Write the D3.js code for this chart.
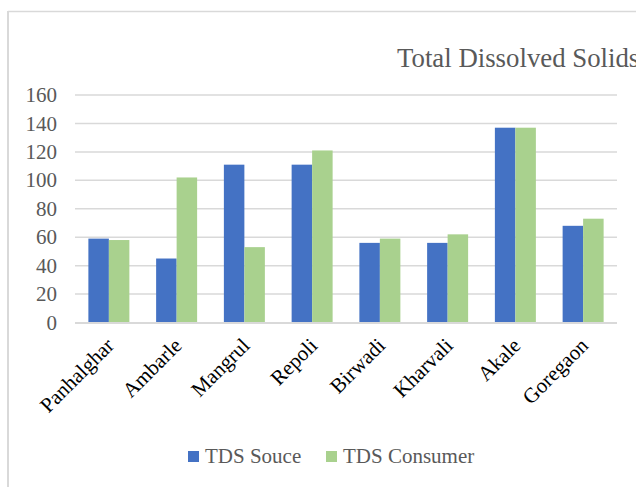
<!DOCTYPE html>
<html>
<head>
<meta charset="utf-8">
<script src="https://cdn.jsdelivr.net/npm/d3@7"></script>
<style>
  body { margin: 0; background: #fff; }
  svg { display: block; font-family: "Liberation Serif", "Times New Roman", serif; }
</style>
</head>
<body>
<script>
// chart data
var categories = ["Panhalghar", "Ambarle", "Mangrul", "Repoli", "Birwadi", "Kharvali", "Akale", "Goregaon"];
var seriesNames = ["TDS Souce", "TDS Consumer"];
var tdsSource = [59, 45, 111, 111, 56, 56, 137, 68];
var tdsConsumer = [58, 102, 53, 121, 59, 62, 137, 73];
var yTicks = [0, 20, 40, 60, 80, 100, 120, 140, 160];
var colors = ["#4472C4", "#A9D18E"];

var width = 636,
    height = 487;

var svg = d3.select("body")
    .append("svg")
    .attr("width", width)
    .attr("height", height);

// frame lines of the cropped chart box
svg.append("line")
    .attr("x1", 8).attr("x2", width)
    .attr("y1", 11.5).attr("y2", 11.5)
    .attr("stroke", "#d9d9d9").attr("stroke-width", 1.5);
svg.append("line")
    .attr("x1", 8).attr("x2", 8)
    .attr("y1", 11).attr("y2", height)
    .attr("stroke", "#d9d9d9").attr("stroke-width", 2);

// title (the chart box is cropped on the right)
svg.append("text")
    .attr("x", 397)
    .attr("y", 67)
    .attr("fill", "#595959")
    .style("font-size", "26.8px")
    .text("Total Dissolved Solids");

var plot = { left: 75, right: 617, top: 95, bottom: 322.5 };

var x = d3.scaleBand()
    .domain(categories)
    .range([plot.left, plot.right])
    .paddingInner(0.395)
    .paddingOuter(0.1975);

var xSub = d3.scaleBand()
    .domain(seriesNames)
    .range([0, x.bandwidth()]);

var y = d3.scaleLinear()
    .domain([0, 160])
    .range([plot.bottom, plot.top]);

// gridlines
svg.append("g")
    .selectAll("line")
    .data(yTicks.slice(1))
    .enter()
    .append("line")
    .attr("x1", plot.left)
    .attr("x2", plot.right)
    .attr("y1", function(d){ return y(d); })
    .attr("y2", function(d){ return y(d); })
    .attr("stroke", "#d9d9d9")
    .attr("stroke-width", 1.5);

// y tick labels
svg.append("g")
    .selectAll("text")
    .data(yTicks)
    .enter()
    .append("text")
    .attr("x", 57)
    .attr("y", function(d){ return y(d); })
    .attr("dy", "0.34em")
    .attr("text-anchor", "end")
    .attr("fill", "#595959")
    .style("font-size", "21px")
    .text(function(d){ return d; });

// bars
var rows = categories.map(function(c, i){
    return { cat: c, values: [tdsSource[i], tdsConsumer[i]] };
});

var groups = svg.selectAll(".grp")
    .data(rows)
    .enter()
    .append("g")
    .attr("class", "grp")
    .attr("transform", function(d){ return "translate(" + x(d.cat) + ",0)"; });

groups.selectAll("rect")
    .data(function(d){
        return d.values.map(function(v, j){ return { name: seriesNames[j], value: v, j: j }; });
    })
    .enter()
    .append("rect")
    .attr("x", function(d){ return xSub(d.name); })
    .attr("width", xSub.bandwidth())
    .attr("y", function(d){ return y(d.value); })
    .attr("height", function(d){ return y(0) - y(d.value); })
    .attr("fill", function(d){ return colors[d.j]; });

// baseline
svg.append("line")
    .attr("x1", plot.left)
    .attr("x2", plot.right)
    .attr("y1", y(0) + 0.5)
    .attr("y2", y(0) + 0.5)
    .attr("stroke", "#d9d9d9")
    .attr("stroke-width", 2);

// x labels rotated
svg.append("g")
    .selectAll("text")
    .data(categories)
    .enter()
    .append("text")
    .attr("transform", function(d){
        return "translate(" + (x(d) + x.bandwidth() / 2 - 4) + "," + (y(0) + 14) + ") rotate(-45)";
    })
    .attr("text-anchor", "end")
    .attr("dy", "0.7em")
    .attr("fill", "#000")
    .style("font-size", "21px")
    .text(function(d){ return d; });

// legend
var legendX = [188, 326];
var legend = svg.selectAll(".legend")
    .data(seriesNames)
    .enter()
    .append("g")
    .attr("class", "legend")
    .attr("transform", function(d, i){ return "translate(" + legendX[i] + ",451)"; });

legend.append("rect")
    .attr("width", 11)
    .attr("height", 11)
    .attr("fill", function(d, i){ return colors[i]; });

legend.append("text")
    .attr("x", 17)
    .attr("y", 12)
    .attr("fill", "#595959")
    .style("font-size", "21px")
    .text(function(d){ return d; });
</script>
</body>
</html>
